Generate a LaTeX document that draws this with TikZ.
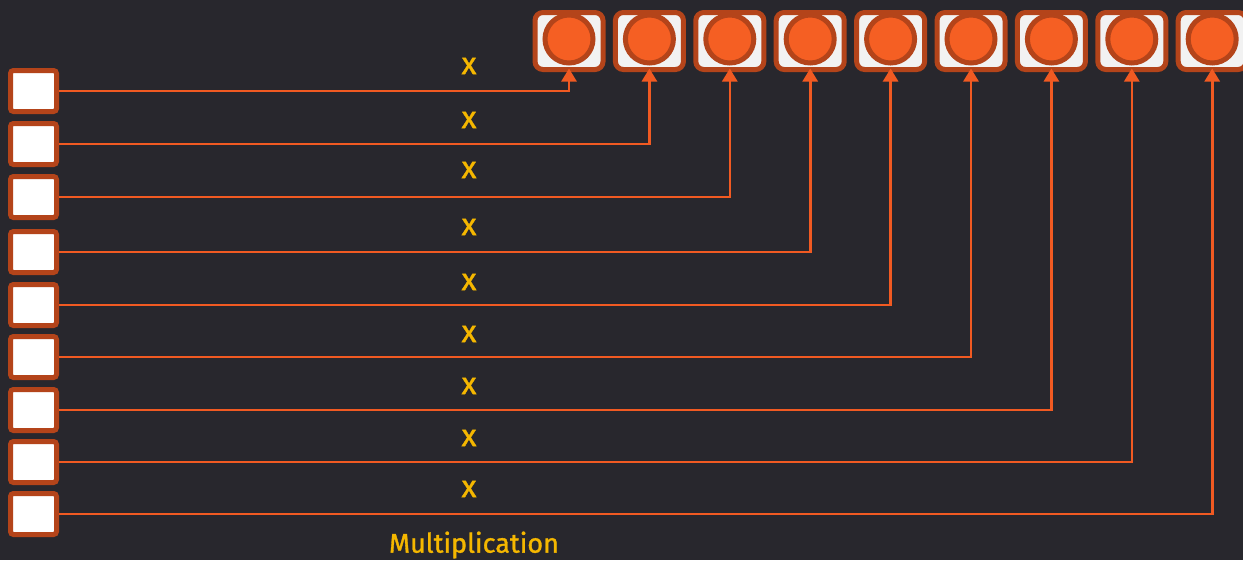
\documentclass[tikz,border=0pt]{standalone}
\usepackage{fontspec}
\setmainfont{Fira Sans}
\newfontfamily\labelfont{Fira Sans}[FakeBold=1.2]
\usetikzlibrary{arrows.meta}
\definecolor{bg}{HTML}{28272D}
\definecolor{rim}{HTML}{B4441A}
\definecolor{wire}{HTML}{F15A22}
\definecolor{dot}{HTML}{F55F23}
\definecolor{pale}{HTML}{F2F2F2}
\definecolor{gold}{HTML}{F5B700}
\begin{document}
\begin{tikzpicture}[x=1pt,y=-1pt,
  inbox/.style={draw=rim,fill=white,line width=5pt,rounded corners=3pt,minimum width=46pt,minimum height=41pt,inner sep=0pt},
  outbox/.style={draw=rim,fill=pale,line width=5pt,rounded corners=8pt,minimum width=68pt,minimum height=57pt,inner sep=0pt},
  outdot/.style={circle,draw=rim,fill=dot,line width=5pt,minimum size=48pt,inner sep=0pt},
  wirestyle/.style={draw=wire,line width=2.6pt,-{Triangle[width=15pt,length=13pt]},shorten >=3pt},
  lbl/.style={text=gold,font=\labelfont\fontsize{27}{29}\selectfont,inner sep=0pt},
  xlbl/.style={text=gold,font=\labelfont\fontsize{31}{33}\selectfont,inner sep=0pt}]
\fill[bg] (0,0) rectangle (1243,560);
\clip (0,0) rectangle (1243,560);
\foreach \i/\ly/\xy [count=\k from 0] in {1/91/66,2/144/120,3/197/170,4/252/227,5/305/282,6/357/334,7/410/386,8/462/438,9/514/489}{
  \pgfmathsetmacro{\cx}{569+80.4*\k}
  \node[outbox] (B\i) at (\cx,41) {};
  \node[outdot] (C\i) at (\cx,39) {};
  \node[inbox] (L\i) at (33.5,\ly) {};
  \node[xlbl] (X\i) at (469,\xy) {x};
}
\foreach \i in {1,...,9}{
  \draw[wirestyle] (L\i.east) -| (C\i.south);
}
\node[lbl] (M) at (474,545) {Multiplication};
\end{tikzpicture}
\end{document}
